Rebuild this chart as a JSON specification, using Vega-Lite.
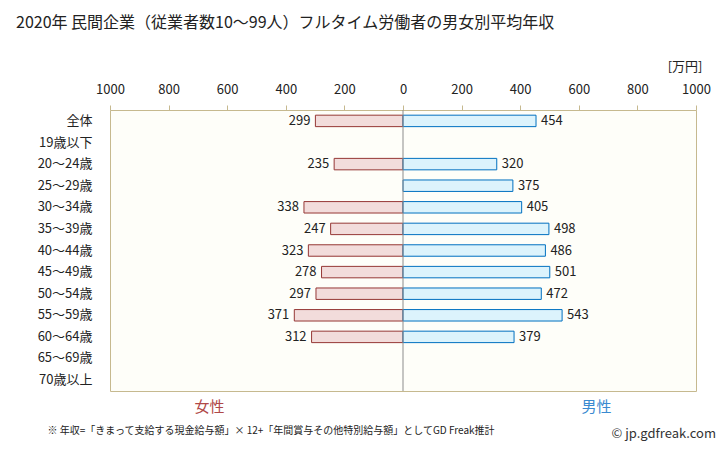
{
  "$schema": "https://vega.github.io/schema/vega-lite/v6.json",
  "width": 586,
  "height": 281,
  "autosize": {"type": "none"},
  "padding": {"left": 110, "top": 110, "right": 32, "bottom": 60},
  "background": "white",
  "title": {
    "text": "2020年 民間企業（従業者数10〜99人）フルタイム労働者の男女別平均年収",
    "anchor": "start",
    "frame": "group",
    "fontSize": 16,
    "fontWeight": "normal",
    "color": "#222222",
    "dx": -94,
    "dy": -25
  },
  "datasets": {
    "female": [
      {"age": "全体", "value": 299},
      {"age": "20〜24歳", "value": 235},
      {"age": "30〜34歳", "value": 338},
      {"age": "35〜39歳", "value": 247},
      {"age": "40〜44歳", "value": 323},
      {"age": "45〜49歳", "value": 278},
      {"age": "50〜54歳", "value": 297},
      {"age": "55〜59歳", "value": 371},
      {"age": "60〜64歳", "value": 312}
    ],
    "male": [
      {"age": "全体", "value": 454},
      {"age": "20〜24歳", "value": 320},
      {"age": "25〜29歳", "value": 375},
      {"age": "30〜34歳", "value": 405},
      {"age": "35〜39歳", "value": 498},
      {"age": "40〜44歳", "value": 486},
      {"age": "45〜49歳", "value": 501},
      {"age": "50〜54歳", "value": 472},
      {"age": "55〜59歳", "value": 543},
      {"age": "60〜64歳", "value": 379}
    ],
    "center": [{"x": 0}]
  },
  "config": {
    "font": "Noto Sans CJK JP",
    "view": {"fill": "#fefef9", "stroke": "#c6b98f", "strokeWidth": 1},
    "axis": {"grid": false, "domain": false, "labelFont": "Noto Sans CJK JP", "titleFont": "Noto Sans CJK JP"}
  },
  "layer": [
    {
      "data": {"name": "female"},
      "encoding": {
        "y": {
          "field": "age", "type": "nominal",
          "scale": {"domain": ["全体","19歳以下","20〜24歳","25〜29歳","30〜34歳","35〜39歳","40〜44歳","45〜49歳","50〜54歳","55〜59歳","60〜64歳","65〜69歳","70歳以上"], "paddingInner": 0.47, "paddingOuter": 0.24},
          "axis": {"orient": "left", "labelFontSize": 13, "labelPadding": 18, "ticks": false, "labelColor": "#222222",
            "title": "© jp.gdfreak.com", "titleAngle": 0, "titleAlign": "left", "titleBaseline": "middle", "titleX": 501, "titleY": 323,
            "titleFontSize": 13, "titleFontWeight": "normal", "titleColor": "#333333"}
        },
        "x": {
          "field": "value", "type": "quantitative",
          "scale": {"domain": [-1000, 1000], "reverse": true},
          "axis": {"orient": "top", "values": [0, 200, 400, 600, 800, 1000], "format": "d", "labelFlush": false, "tickColor": "#c6b98f", "tickSize": 5,
            "labelPadding": 9, "labelFontSize": 13, "labelColor": "#222222", "title": null}
        }
      },
      "layer": [
        {"mark": {"type": "bar", "fill": "#f2dcdb", "stroke": "#953735", "strokeWidth": 1}},
        {"mark": {"type": "text", "align": "right", "dx": -5, "baseline": "middle", "fontSize": 13, "color": "#222222"},
         "encoding": {"text": {"field": "value", "type": "quantitative"}}}
      ]
    },
    {
      "data": {"name": "male"},
      "encoding": {
        "y": {
          "field": "age", "type": "nominal",
          "scale": {"domain": ["全体","19歳以下","20〜24歳","25〜29歳","30〜34歳","35〜39歳","40〜44歳","45〜49歳","50〜54歳","55〜59歳","60〜64歳","65〜69歳","70歳以上"], "paddingInner": 0.47, "paddingOuter": 0.24},
          "axis": {"orient": "left", "labelFontSize": 13, "labelPadding": 18, "ticks": false, "labelColor": "#222222",
            "title": "© jp.gdfreak.com", "titleAngle": 0, "titleAlign": "left", "titleBaseline": "middle", "titleX": 501, "titleY": 323,
            "titleFontSize": 13, "titleFontWeight": "normal", "titleColor": "#333333"}
        },
        "x": {
          "field": "value", "type": "quantitative",
          "scale": {"domain": [-1000, 1000]},
          "axis": {"orient": "top", "values": [200, 400, 600, 800, 1000], "format": "d", "labelFlush": false, "tickColor": "#c6b98f", "tickSize": 5,
            "labelPadding": 9, "labelFontSize": 13, "labelColor": "#222222",
            "title": "[万円]", "titleAngle": 0, "titleAlign": "right", "titleBaseline": "middle", "titleX": 592, "titleY": -44,
            "titleFontSize": 13, "titleFontWeight": "normal", "titleColor": "#222222"}
        }
      },
      "layer": [
        {"mark": {"type": "bar", "fill": "#dcf3fc", "stroke": "#0070c0", "strokeWidth": 1}},
        {"mark": {"type": "text", "align": "left", "dx": 5, "baseline": "middle", "fontSize": 13, "color": "#222222"},
         "encoding": {"text": {"field": "value", "type": "quantitative"}}}
      ]
    },
    {
      "data": {"name": "center"},
      "mark": {"type": "rule", "color": "#8c8c8c", "strokeWidth": 1},
      "encoding": {
        "x": {
          "field": "x", "type": "quantitative",
          "scale": {"domain": [-1000, 1000]},
          "axis": {"orient": "bottom", "values": [-662, 659], "labelExpr": "datum.value < 0 ? '女性' : '男性'",
            "labelColor": {"condition": {"test": "datum.value < 0", "value": "#b04848"}, "value": "#3a8ad0"},
            "labelFontSize": 15, "ticks": false, "labelPadding": 8, "labelFlush": false,
            "title": "※ 年収=「きまって支給する現金給与額」× 12+「年間賞与その他特別給与額」としてGD Freak推計",
            "titleAnchor": "start", "titleAlign": "left", "titleBaseline": "middle", "titleX": -63, "titleY": 39,
            "titleFontSize": 10, "titleFontWeight": "normal", "titleColor": "#222222"}
        }
      }
    }
  ],
  "resolve": {"scale": {"x": "independent"}, "axis": {"x": "independent"}}
}
